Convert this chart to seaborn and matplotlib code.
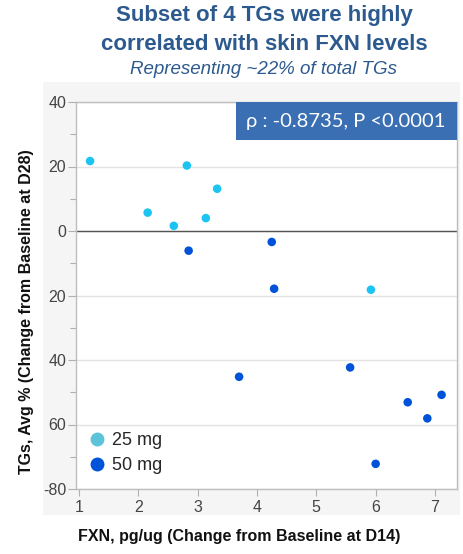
import seaborn as sns
import matplotlib.pyplot as plt
import pandas as pd
from matplotlib.patches import Rectangle

# Data
fxn_25 = [1.19, 2.16, 2.60, 2.82, 3.14, 3.33, 5.92]
tg_25 = [21.7, 5.7, 1.6, 20.3, 4.0, 13.1, -18.2]
fxn_50 = [2.85, 4.25, 4.29, 3.70, 5.57, 6.54, 6.87, 7.11, 6.00]
tg_50 = [-6.1, -3.4, -17.9, -45.2, -42.3, -53.1, -58.1, -50.8, -72.2]
doses = ["25 mg", "50 mg"]
y_ticks = [-80, -60, -40, -20, 0, 20, 40]
y_tick_labels = ["-80", "60", "40", "20", "0", "20", "40"]
x_ticks = [1, 2, 3, 4, 5, 6, 7]

df = pd.DataFrame({
    "FXN": fxn_25 + fxn_50,
    "TG": tg_25 + tg_50,
    "Dose": [doses[0]] * len(fxn_25) + [doses[1]] * len(fxn_50),
})

sns.set_theme(style="white")
plt.rcParams['font.family'] = ['Liberation Sans', 'DejaVu Sans']

fig = plt.figure(figsize=(4.64, 5.54), dpi=100)
# light grey panel behind the plot
bg = Rectangle((43 / 464, 1 - 515 / 554), 417 / 464, 433 / 554,
               transform=fig.transFigure, facecolor="#f5f5f5",
               edgecolor="none", zorder=-10)
fig.patches.append(bg)
ax = fig.add_axes([76 / 464, 1 - 489 / 554, 380.7 / 464, 387 / 554])
ax.set_zorder(2)
ax.set_facecolor("white")

pal = {"25 mg": "#1cc4f2", "50 mg": "#0052d9"}
sns.scatterplot(data=df, x="FXN", y="TG", hue="Dose", palette=pal, s=38,
                edgecolor="none", ax=ax, zorder=3)

ax.set_xlim(0.953, 7.365)
ax.set_ylim(-80, 40)
ax.set_yticks(y_ticks)
ax.set_yticklabels(y_tick_labels)
ax.set_yticks([-70, -50, -30, -10, 10, 30], minor=True)
ax.set_xticks(x_ticks)
ax.tick_params(axis="both", which="both", direction="out", colors="#b0b0b0",
               labelcolor="#444444", labelsize=11.5)
ax.tick_params(axis="y", which="major", length=6, width=0.8, left=True, pad=1)
ax.tick_params(axis="y", which="minor", length=4, width=0.8, left=True)
ax.tick_params(axis="x", which="major", length=5, width=0.8, bottom=True, pad=3)
ax.grid(axis="y", color="#e3e3e3", linewidth=1)
ax.axhline(0, color="#555555", linewidth=1, zorder=2)
for s in ax.spines.values():
    s.set_color("#bdbdbd")
    s.set_linewidth(1)

ax.set_xlabel("")
ax.set_ylabel("")
fig.text(239 / 464, 1 - 536 / 554, "FXN, pg/ug (Change from Baseline at D14)",
         ha="center", va="center", fontsize=11.5, fontweight="bold", color="#111111")
fig.text(27 / 464, 1 - 312 / 554, "TGs, Avg % (Change from Baseline at D28)",
         ha="center", va="center", rotation=90, fontsize=11.5, fontweight="bold",
         color="#111111")

# legend
handles = [plt.Line2D([], [], marker="o", linestyle="", markersize=10,
                      markerfacecolor=c, markeredgecolor="none")
           for c in ["#5bc4d9", "#0052d9"]]
ax.legend(handles, doses, loc="lower left", frameon=False, fontsize=13,
          handletextpad=0.35, labelspacing=0.45, borderaxespad=0.0,
          handlelength=1.0, bbox_to_anchor=(0.012, 0.02))

# correlation box
ax.add_patch(Rectangle((236 / 464, 1 - 140 / 554), 220.7 / 464, 38 / 554,
                       transform=fig.transFigure, facecolor="#3a6fb3",
                       edgecolor="none", zorder=5, clip_on=False))
ax.text(346 / 464, 1 - 121 / 554, "ρ : -0.8735, P <0.0001", ha="center",
        va="center", fontsize=14.5, color="white", family=["Lato", "DejaVu Sans"],
        transform=fig.transFigure, zorder=6)

# titles
fig.text(264 / 464, 1 - 16 / 554, "Subset of 4 TGs were highly",
         ha="center", va="center", fontsize=16, fontweight="bold", color="#2d5a8e")
fig.text(264 / 464, 1 - 45 / 554, "correlated with skin FXN levels",
         ha="center", va="center", fontsize=16, fontweight="bold", color="#2d5a8e")
fig.text(264 / 464, 1 - 69 / 554, "Representing ~22% of total TGs",
         ha="center", va="center", fontsize=13.5, style="italic", color="#2d5a8e")

fig.savefig("out.png", dpi=100)
